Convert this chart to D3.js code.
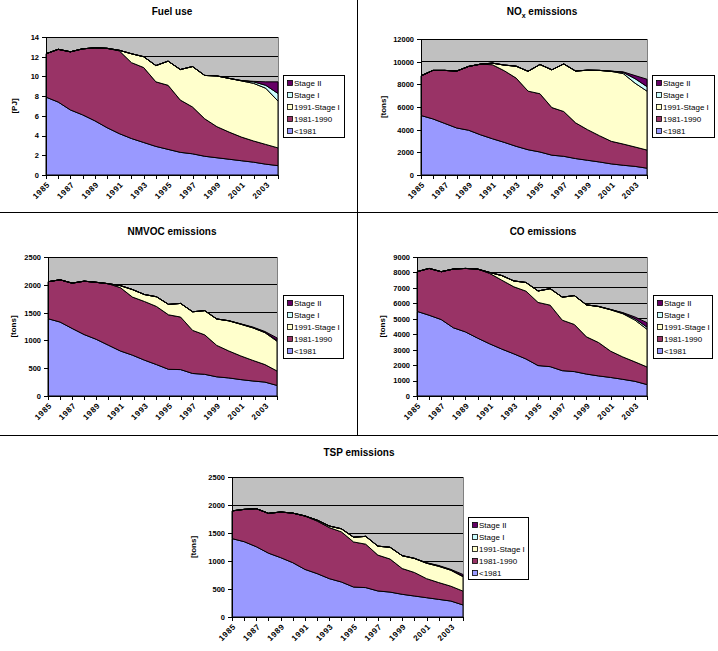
<!DOCTYPE html>
<html><head><meta charset="utf-8">
<script src="https://cdn.jsdelivr.net/npm/d3@7"></script>
<style>
body{margin:0;background:#fff;}
svg{display:block;font-family:"Liberation Sans",Arial,sans-serif;}
</style>
</head><body>
<svg id="c" width="718" height="651"></svg>
<script>
const years = [1985,1986,1987,1988,1989,1990,1991,1992,1993,1994,1995,1996,1997,1998,1999,2000,2001,2002,2003,2004];
const xLabelYears = [1985,1987,1989,1991,1993,1995,1997,1999,2001,2003];
const seriesNames = ["<1981","1981-1990","1991-Stage I","Stage I","Stage II"];
const seriesColors = ["#9999FF","#993366","#FFFFCC","#CCFFFF","#660066"];

// Fuel use [PJ]
const fuelPre1981   = [7.9,7.4,6.6,6.1,5.5,4.8,4.2,3.7,3.3,2.9,2.6,2.3,2.15,1.9,1.75,1.6,1.45,1.3,1.1,0.95];
const fuel1981_1990 = [4.4,5.35,5.9,6.7,7.4,8.05,8.4,7.7,7.6,6.55,6.5,5.3,4.75,3.8,3.15,2.75,2.4,2.15,2.0,1.8];
const fuel1991_StI  = [0,0,0,0,0,0,0.05,0.9,1.1,1.65,2.45,3.1,4.1,4.4,5.15,5.45,5.7,5.85,5.7,4.75];
const fuelStageI    = [0,0,0,0,0,0,0,0,0,0,0,0,0,0,0,0,0.03,0.15,0.3,0.77];
const fuelStageII   = [0,0,0,0,0,0,0,0,0,0,0,0,0,0,0,0,0,0.05,0.35,1.18];
const fuelTicks = [0,2,4,6,8,10,12,14];

// NOx emissions [tons]
const noxPre1981   = [5250,4950,4550,4150,3950,3550,3200,2880,2530,2230,2030,1750,1650,1450,1300,1150,980,860,760,600];
const nox1981_1990 = [3500,4280,4680,5020,5630,6230,6530,6320,6020,5170,5140,4200,3950,3150,2700,2320,1990,1870,1710,1600];
const nox1991_StI  = [0,0,0,0,0,0,140,500,1050,1750,2580,3330,4200,4570,5250,5760,6170,6220,5630,5200];
const noxStageI    = [0,0,0,0,0,0,0,0,0,0,0,0,0,0,0,0,20,100,400,400];
const noxStageII   = [0,0,0,0,0,0,0,0,0,0,0,0,0,0,0,0,0,50,270,650];
const noxTicks = [0,2000,4000,6000,8000,10000,12000];

// NMVOC emissions [tons]
const nmvocPre1981   = [1390,1330,1215,1105,1020,915,810,735,645,565,480,475,405,390,345,325,295,270,250,190];
const nmvoc1981_1990 = [665,760,815,960,1025,1105,1140,1045,1055,1045,980,945,775,710,565,485,425,370,315,260];
const nmvoc1991_StI  = [0,0,0,0,0,0,35,135,125,175,188,245,335,435,475,542,570,585,575,535];
const nmvocStageI    = [0,0,0,0,0,0,0,0,0,0,0,0,0,0,0,2,4,6,8,15];
const nmvocStageII   = [0,0,0,0,0,0,0,0,0,0,0,0,0,0,0,0,4,9,12,45];
const nmvocTicks = [0,500,1000,1500,2000,2500];

// CO emissions [tons]
const coPre1981   = [5480,5230,4950,4420,4150,3750,3380,3040,2730,2400,1970,1900,1640,1580,1420,1300,1200,1080,950,740];
const co1981_1990 = [2570,3030,3100,3800,4110,4470,4560,4460,4340,4390,4090,3980,3270,3050,2410,2160,1700,1450,1260,1140];
const co1991_StI  = [0,0,0,0,0,0,60,300,380,560,740,1070,1490,1870,2070,2330,2680,2800,2710,2440];
const coStageI    = [0,0,0,0,0,0,0,0,0,0,0,0,0,0,0,10,20,40,90,140];
const coStageII   = [0,0,0,0,0,0,0,0,0,0,0,0,0,0,0,0,0,30,110,290];
const coTicks = [0,1000,2000,3000,4000,5000,6000,7000,8000,9000];

// TSP emissions [tons]
const tspPre1981   = [1400,1345,1255,1140,1060,970,850,775,685,625,535,525,465,445,405,375,345,315,285,215];
const tsp1981_1990 = [495,577,679,711,815,885,953,939,912,895,805,775,640,590,460,420,340,300,265,247];
const tsp1991_StI  = [0,0,0,0,0,0,2,16,28,55,85,140,160,210,230,250,275,290,285,258];
const tspStageI    = [0,0,0,0,0,0,0,0,0,0,0,0,0,0,0,3,5,7,7,10];
const tspStageII   = [0,0,0,0,0,0,0,0,0,0,0,0,0,0,0,0,5,8,8,30];
const tspTicks = [0,500,1000,1500,2000,2500];

const panels = [
  {title:"Fuel use", unit:"[PJ]", ticks:fuelTicks,
   series:[fuelPre1981,fuel1981_1990,fuel1991_StI,fuelStageI,fuelStageII],
   plot:{l:46,r:278,t:37,b:175}, titleX:172, titleY:14.5, unitX:17, legend:{x:283.5,y:75.5,w:61,h:62}},
  {title:"NOx emissions", unit:"[tons]", ticks:noxTicks, sub:true,
   series:[noxPre1981,nox1981_1990,nox1991_StI,noxStageI,noxStageII],
   plot:{l:421,r:647,t:39,b:175}, titleX:542, titleY:15, unitX:386, legend:{x:652.5,y:75.5,w:62,h:62}},
  {title:"NMVOC emissions", unit:"[tons]", ticks:nmvocTicks,
   series:[nmvocPre1981,nmvoc1981_1990,nmvoc1991_StI,nmvocStageI,nmvocStageII],
   plot:{l:48,r:277,t:257,b:396}, titleX:172, titleY:235, unitX:16, legend:{x:283.5,y:295.5,w:60,h:63}},
  {title:"CO emissions", unit:"[tons]", ticks:coTicks,
   series:[coPre1981,co1981_1990,co1991_StI,coStageI,coStageII],
   plot:{l:417,r:647,t:257,b:396}, titleX:543, titleY:235, unitX:385, legend:{x:653.5,y:295.5,w:59,h:63}},
  {title:"TSP emissions", unit:"[tons]", ticks:tspTicks,
   series:[tspPre1981,tsp1981_1990,tsp1991_StI,tspStageI,tspStageII],
   plot:{l:232,r:463,t:477,b:617}, titleX:359, titleY:456, unitX:196, legend:{x:468.5,y:517.5,w:60,h:62}}
];

const svg = d3.select("#c");

// panel separators
svg.append("line").attr("x1",0).attr("x2",718).attr("y1",212.5).attr("y2",212.5).attr("stroke","#000");
svg.append("line").attr("x1",0).attr("x2",718).attr("y1",435.5).attr("y2",435.5).attr("stroke","#000");
svg.append("line").attr("x1",357.5).attr("x2",357.5).attr("y1",0).attr("y2",435.5).attr("stroke","#000");

panels.forEach(p => {
  const g = svg.append("g");
  const P = p.plot;
  const x = d3.scaleLinear().domain([years[0], years[years.length-1]]).range([P.l, P.r]);
  const y = d3.scaleLinear().domain([0, d3.max(p.ticks)]).range([P.b, P.t]);

  // title
  const t = g.append("text").attr("x",p.titleX).attr("y",p.titleY).attr("text-anchor","middle")
    .attr("font-size","10px").attr("font-weight","bold");
  if (p.sub) {
    t.append("tspan").text("NO");
    t.append("tspan").text("x").attr("font-size","7px").attr("dy",2.5);
    t.append("tspan").text(" emissions").attr("dy",-2.5);
  } else t.text(p.title);

  // plot background
  g.append("rect").attr("x",P.l).attr("y",P.t).attr("width",P.r-P.l).attr("height",P.b-P.t)
    .attr("fill","#C0C0C0").attr("stroke","#808080").attr("shape-rendering","crispEdges");
  // gridlines
  g.selectAll("line.grid").data(p.ticks.filter(v=>v>0)).join("line").attr("class","grid")
    .attr("x1",P.l).attr("x2",P.r).attr("y1",d=>y(d)).attr("y2",d=>y(d))
    .attr("stroke","#000").attr("shape-rendering","crispEdges");

  // stacked areas
  const rows = years.map((yr,i)=>{const o={year:yr}; seriesNames.forEach((n,k)=>o[n]=p.series[k][i]); return o;});
  const stacked = d3.stack().keys(seriesNames)(rows);
  const area = d3.area().x(d=>x(d.data.year)).y0(d=>y(d[0])).y1(d=>y(d[1]));
  g.selectAll("path.layer").data(stacked).join("path").attr("class","layer")
    .attr("d",area).attr("fill",(d,i)=>seriesColors[i]).attr("stroke","#000").attr("stroke-width",1);

  // y axis
  const ya = g.append("g").attr("transform",`translate(${P.l},0)`)
    .call(d3.axisLeft(y).tickValues(p.ticks).tickSize(4).tickSizeOuter(0).tickPadding(3).tickFormat(d=>String(d)));
  ya.selectAll("text").attr("font-size","7.5px").attr("font-weight","bold").attr("font-family","Liberation Sans, Arial, sans-serif").attr("fill","#000");
  ya.selectAll("line,path").attr("stroke","#000").attr("shape-rendering","crispEdges");

  // x axis
  const xa = g.append("g").attr("transform",`translate(0,${P.b})`)
    .call(d3.axisBottom(x).tickValues(years).tickSize(4).tickSizeOuter(0)
      .tickFormat(d=> xLabelYears.includes(d) ? String(d) : ""));
  xa.selectAll("line,path").attr("stroke","#000").attr("shape-rendering","crispEdges");
  xa.selectAll("text").attr("y",0).attr("dy",0).attr("x",0)
    .attr("text-anchor","end").attr("transform","translate(4,10) rotate(-45)")
    .attr("font-size","8px").attr("font-weight","bold").attr("letter-spacing","0.7px")
    .attr("font-family","Liberation Sans, Arial, sans-serif").attr("fill","#000");

  // unit label
  g.append("text").attr("transform",`translate(${p.unitX},${(P.t+P.b)/2}) rotate(-90)`)
    .attr("text-anchor","middle").attr("font-size","8px").attr("font-weight","bold").text(p.unit);

  // legend
  const L = p.legend;
  const lg = g.append("g");
  lg.append("rect").attr("x",L.x).attr("y",L.y).attr("width",L.w).attr("height",L.h)
    .attr("fill","#fff").attr("stroke","#000").attr("shape-rendering","crispEdges");
  const order = seriesNames.map((n,i)=>i).reverse();
  order.forEach((si,k)=>{
    const cy = L.y + 7.4 + k*12;
    lg.append("rect").attr("x",L.x+4).attr("y",cy-2.5).attr("width",5).attr("height",5)
      .attr("fill",seriesColors[si]).attr("stroke","#000").attr("stroke-width",0.8);
    lg.append("text").attr("x",L.x+10.5).attr("y",cy+3).attr("font-size","8px").text(seriesNames[si]);
  });
});
</script>
</body></html>
